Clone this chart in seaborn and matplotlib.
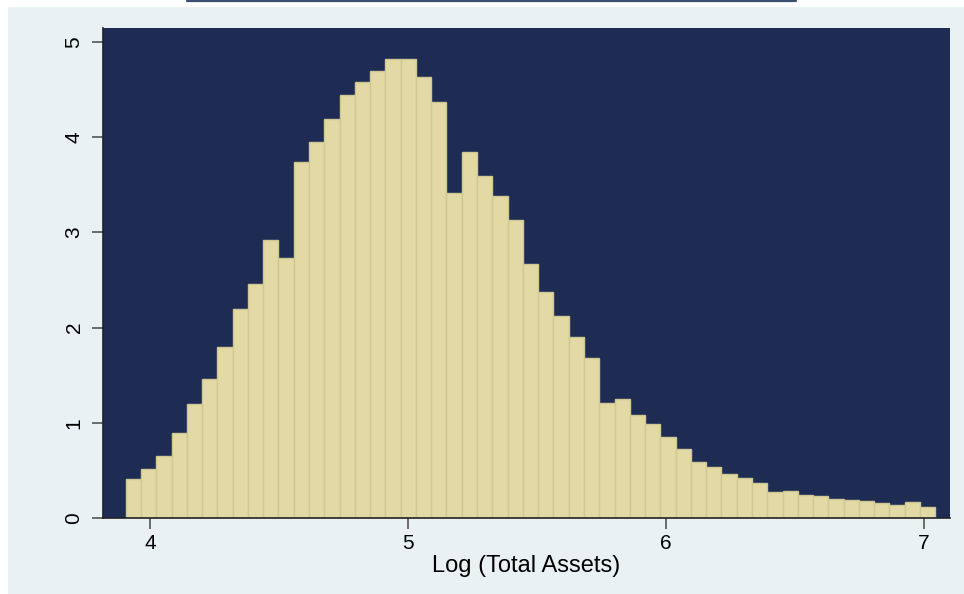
import numpy as np
import pandas as pd
import matplotlib
matplotlib.use("Agg")
import matplotlib.pyplot as plt
from matplotlib.lines import Line2D
from matplotlib.patches import Rectangle
import seaborn as sns

# ---- data (density heights of the histogram) ----
heights = [0.416, 0.514, 0.651, 0.895, 1.20, 1.459, 1.80, 2.20, 2.456, 2.918,
           2.729, 3.743, 3.947, 4.188, 4.443, 4.58, 4.692, 4.821, 4.821, 4.635,
           4.373, 3.415, 3.845, 3.59, 3.386, 3.128, 2.666, 2.379, 2.127, 1.906,
           1.679, 1.21, 1.252, 1.081, 0.987, 0.853, 0.731, 0.591, 0.535, 0.468,
           0.42, 0.367, 0.276, 0.287, 0.241, 0.237, 0.199, 0.192, 0.182, 0.157,
           0.14, 0.168, 0.122]
bin_min = 3.9046
bin_max = 7.045
x_ticks = [4, 5, 6, 7]
y_ticks = [0, 1, 2, 3, 4, 5]
x_label = "Log (Total Assets)"

n_bins = len(heights)
edges = np.linspace(bin_min, bin_max, n_bins + 1)
centers = (edges[:-1] + edges[1:]) / 2
df = pd.DataFrame({"x": centers, "w": heights})

sns.set_theme(style="white")
plt.rcParams["font.family"] = ["Liberation Sans", "DejaVu Sans"]

W, H = 964, 594
fig = plt.figure(figsize=(W / 100, H / 100), dpi=100)
fig.patch.set_facecolor("white")
fig.add_artist(Rectangle((8 / W, 0), 1, 1 - 7 / H, transform=fig.transFigure,
                         facecolor="#e9f1f3", edgecolor="none", zorder=-10))
fig.add_artist(Line2D([187 / W, 796 / W], [1 - 1 / H, 1 - 1 / H],
                      transform=fig.transFigure, color="#3d4f6e", lw=1.6))

ax = fig.add_axes([103 / W, 1 - 518.3 / H, (950 - 103) / W, (518.3 - 28) / H])
ax.set_facecolor("#1e2c54")

sns.histplot(data=df, x="x", weights="w", bins=n_bins,
             binrange=(bin_min, bin_max), stat="count",
             color="#e2d9a4", edgecolor="#cfc893", linewidth=1.0, alpha=1,
             ax=ax)

ax.set_xlim(3.8165, 7.102)
ax.set_ylim(0, 5.146)
ax.set_xticks(x_ticks)
ax.set_yticks(y_ticks)
ax.set_xticklabels([str(t) for t in x_ticks], fontsize=15)
ax.set_yticklabels([str(t) for t in y_ticks], fontsize=15, rotation=90, va="center")
ax.set_xlabel(x_label, fontsize=17, labelpad=2, color="black")
ax.set_ylabel("")

for s in ["top", "right"]:
    ax.spines[s].set_visible(False)
for s in ["left", "bottom"]:
    ax.spines[s].set_color("#222222")
    ax.spines[s].set_linewidth(1.2)
ax.tick_params(axis="both", which="major", direction="out", length=8,
               width=1.2, color="#555555", colors="black", pad=3,
               left=True, bottom=True)
ax.tick_params(axis="y", pad=6)

fig.savefig("out.png", dpi=100, facecolor=fig.get_facecolor())
